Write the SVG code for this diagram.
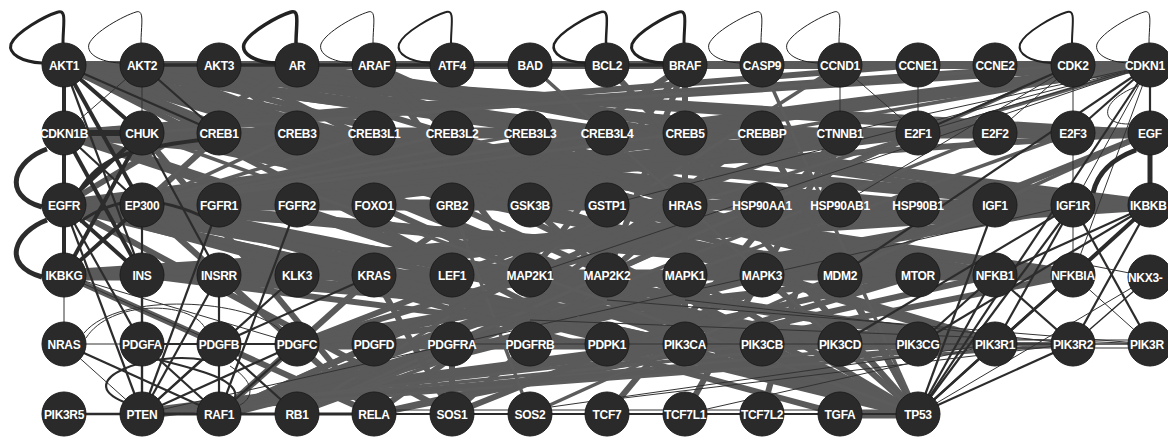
<svg xmlns="http://www.w3.org/2000/svg" xmlns:xlink="http://www.w3.org/1999/xlink" width="1168" height="440" viewBox="0 0 1168 440">
<style>
.a{stroke:#5a5a5a;stroke-width:11;fill:none}
.b{stroke:#5a5a5a;stroke-width:6;fill:none}
.c{stroke:#5c5c5c;stroke-width:3.5;fill:none}
.d{stroke:#2c2c2c;stroke-width:4;fill:none}
.e{stroke:#2c2c2c;stroke-width:2.2;fill:none}
.f{stroke:#333;stroke-width:1;fill:none}
.nd{fill:#2a2a2a;stroke:#1d1d1d;stroke-width:1}
.lb{fill:#fff;font-family:"Liberation Sans",Arial,sans-serif;font-weight:bold;font-size:12px;letter-spacing:-0.3px;text-anchor:middle}
.ls{text-anchor:start}
</style>
<defs>
<path id="lp" d="M -1,-22 C -1,-40 3,-56 -6,-53 C -19,-49 -48,-33 -53,-21 C -56,-11 -42,-3 -22,-2" fill="none" stroke="#222"/>
</defs>
<rect width="1168" height="440" fill="#fff"/>
<g id="connectors">
<line class="a" x1="64" y1="205" x2="1150" y2="205"/>
<line class="a" x1="64" y1="275" x2="1073" y2="275"/>
<line class="a" x1="64" y1="133" x2="1150" y2="133"/>
<line class="a" x1="64" y1="65" x2="1150" y2="205"/>
<line class="a" x1="64" y1="65" x2="918" y2="414"/>
<line class="a" x1="64" y1="205" x2="1150" y2="65"/>
<line class="a" x1="64" y1="205" x2="918" y2="414"/>
<line class="a" x1="142" y1="205" x2="918" y2="414"/>
<line class="a" x1="142" y1="133" x2="1073" y2="275"/>
<line class="a" x1="64" y1="65" x2="918" y2="275"/>
<line class="a" x1="219" y1="414" x2="607" y2="275"/>
<line class="a" x1="297" y1="344" x2="995" y2="344"/>
<line class="a" x1="64" y1="275" x2="1150" y2="205"/>
<line class="a" x1="64" y1="65" x2="1073" y2="133"/>
<line class="a" x1="142" y1="205" x2="1150" y2="65"/>
<line class="a" x1="64" y1="133" x2="918" y2="414"/>
<line class="a" x1="297" y1="344" x2="1073" y2="205"/>
<line class="a" x1="219" y1="414" x2="762" y2="275"/>
<line class="a" x1="142" y1="275" x2="1073" y2="205"/>
<line class="a" x1="64" y1="65" x2="995" y2="344"/>
<line class="a" x1="64" y1="205" x2="995" y2="344"/>
<line class="a" x1="142" y1="414" x2="685" y2="344"/>
<line class="a" x1="142" y1="133" x2="918" y2="205"/>
<line class="a" x1="219" y1="133" x2="995" y2="275"/>
<line class="a" x1="297" y1="133" x2="1073" y2="205"/>
<line class="a" x1="142" y1="205" x2="918" y2="275"/>
<line class="a" x1="219" y1="205" x2="840" y2="133"/>
<line class="a" x1="142" y1="275" x2="918" y2="205"/>
<line class="a" x1="219" y1="275" x2="995" y2="205"/>
<line class="a" x1="142" y1="133" x2="840" y2="275"/>
<line class="a" x1="64" y1="133" x2="840" y2="205"/>
<line class="a" x1="142" y1="205" x2="840" y2="344"/>
<line class="a" x1="219" y1="275" x2="918" y2="344"/>
<line class="a" x1="297" y1="275" x2="840" y2="205"/>
<line class="a" x1="297" y1="205" x2="918" y2="133"/>
<line class="a" x1="219" y1="65" x2="762" y2="133"/>
<line class="a" x1="374" y1="133" x2="918" y2="275"/>
<line class="b" x1="64" y1="65" x2="1150" y2="65" style="stroke-width:8"/>
<line class="b" x1="64" y1="65" x2="1073" y2="205"/>
<line class="b" x1="64" y1="65" x2="762" y2="275"/>
<line class="b" x1="64" y1="65" x2="685" y2="344"/>
<line class="b" x1="64" y1="65" x2="840" y2="275"/>
<line class="b" x1="64" y1="65" x2="762" y2="205"/>
<line class="b" x1="64" y1="65" x2="1150" y2="133"/>
<line class="b" x1="64" y1="65" x2="607" y2="344"/>
<line class="b" x1="64" y1="65" x2="530" y2="205"/>
<line class="b" x1="64" y1="65" x2="374" y2="205"/>
<line class="b" x1="64" y1="65" x2="840" y2="133"/>
<line class="b" x1="142" y1="65" x2="918" y2="275"/>
<line class="b" x1="142" y1="65" x2="1150" y2="205"/>
<line class="b" x1="142" y1="65" x2="918" y2="414"/>
<line class="b" x1="142" y1="65" x2="530" y2="205"/>
<line class="b" x1="219" y1="65" x2="918" y2="414"/>
<line class="b" x1="219" y1="65" x2="918" y2="275"/>
<line class="b" x1="219" y1="65" x2="374" y2="205"/>
<line class="b" x1="297" y1="65" x2="1073" y2="205"/>
<line class="b" x1="297" y1="65" x2="762" y2="133"/>
<line class="b" x1="297" y1="65" x2="142" y2="205"/>
<line class="b" x1="297" y1="65" x2="762" y2="205"/>
<line class="b" x1="297" y1="65" x2="64" y2="205"/>
<line class="b" x1="64" y1="205" x2="685" y2="344"/>
<line class="b" x1="64" y1="205" x2="452" y2="414"/>
<line class="b" x1="64" y1="205" x2="374" y2="275"/>
<line class="b" x1="64" y1="205" x2="1150" y2="133"/>
<line class="b" x1="64" y1="205" x2="1073" y2="275"/>
<line class="b" x1="64" y1="205" x2="840" y2="344"/>
<line class="b" x1="64" y1="133" x2="1073" y2="65"/>
<line class="b" x1="64" y1="133" x2="918" y2="65"/>
<line class="b" x1="64" y1="133" x2="1150" y2="65"/>
<line class="b" x1="142" y1="133" x2="1150" y2="205"/>
<line class="b" x1="142" y1="133" x2="995" y2="275"/>
<line class="b" x1="142" y1="133" x2="374" y2="414"/>
<line class="b" x1="142" y1="205" x2="762" y2="133"/>
<line class="b" x1="142" y1="205" x2="840" y2="133"/>
<line class="b" x1="142" y1="205" x2="374" y2="414"/>
<line class="b" x1="142" y1="205" x2="995" y2="275"/>
<line class="b" x1="142" y1="275" x2="995" y2="205"/>
<line class="b" x1="142" y1="275" x2="995" y2="344"/>
<line class="b" x1="142" y1="275" x2="685" y2="344"/>
<line class="b" x1="64" y1="275" x2="374" y2="414"/>
<line class="b" x1="762" y1="133" x2="374" y2="414"/>
<line class="b" x1="840" y1="133" x2="762" y2="414"/>
<line class="b" x1="840" y1="133" x2="685" y2="414"/>
<line class="b" x1="840" y1="133" x2="607" y2="414"/>
<line class="b" x1="840" y1="133" x2="452" y2="275"/>
<line class="b" x1="840" y1="133" x2="530" y2="205"/>
<line class="b" x1="918" y1="133" x2="297" y2="414"/>
<line class="c" x1="995" y1="133" x2="297" y2="414"/>
<line class="c" x1="1073" y1="133" x2="297" y2="414"/>
<line class="c" x1="1073" y1="65" x2="297" y2="414"/>
<line class="c" x1="840" y1="65" x2="297" y2="414"/>
<line class="b" x1="685" y1="205" x2="685" y2="65"/>
<line class="b" x1="685" y1="205" x2="374" y2="65"/>
<line class="b" x1="685" y1="205" x2="452" y2="414"/>
<line class="b" x1="685" y1="205" x2="685" y2="344"/>
<line class="b" x1="374" y1="275" x2="685" y2="344"/>
<line class="b" x1="374" y1="275" x2="685" y2="65"/>
<line class="b" x1="374" y1="275" x2="452" y2="414"/>
<line class="b" x1="530" y1="275" x2="685" y2="65"/>
<line class="b" x1="530" y1="275" x2="374" y2="65"/>
<line class="b" x1="607" y1="275" x2="685" y2="65"/>
<line class="b" x1="607" y1="275" x2="374" y2="65"/>
<line class="b" x1="918" y1="275" x2="685" y2="344"/>
<line class="b" x1="918" y1="275" x2="607" y2="344"/>
<line class="b" x1="995" y1="275" x2="374" y2="414"/>
<line class="b" x1="1073" y1="275" x2="374" y2="414"/>
<line class="b" x1="452" y1="344" x2="685" y2="344"/>
<line class="c" x1="452" y1="344" x2="1073" y2="344"/>
<line class="c" x1="530" y1="344" x2="1073" y2="344"/>
<line class="b" x1="297" y1="344" x2="918" y2="275"/>
<line class="b" x1="297" y1="344" x2="762" y2="205"/>
<line class="b" x1="297" y1="344" x2="840" y2="133"/>
<line class="c" x1="762" y1="344" x2="142" y2="414"/>
<line class="c" x1="840" y1="344" x2="142" y2="414"/>
<line class="c" x1="918" y1="344" x2="142" y2="414"/>
<line class="b" x1="995" y1="344" x2="142" y2="414"/>
<line class="c" x1="1073" y1="344" x2="142" y2="414"/>
<line class="b" x1="452" y1="414" x2="1150" y2="133"/>
<line class="b" x1="452" y1="414" x2="452" y2="205"/>
<line class="c" x1="530" y1="414" x2="452" y2="205"/>
<line class="c" x1="530" y1="414" x2="1150" y2="133"/>
<line class="b" x1="840" y1="414" x2="64" y2="205"/>
<line class="b" x1="219" y1="414" x2="685" y2="205"/>
<line class="b" x1="219" y1="414" x2="530" y2="275"/>
<line class="b" x1="219" y1="414" x2="685" y2="275"/>
<line class="b" x1="219" y1="414" x2="374" y2="275"/>
<line class="b" x1="918" y1="414" x2="840" y2="275"/>
<line class="b" x1="918" y1="414" x2="762" y2="133"/>
<line class="b" x1="918" y1="414" x2="685" y2="275"/>
<line class="b" x1="918" y1="414" x2="762" y2="275"/>
<line class="b" x1="918" y1="414" x2="607" y2="65"/>
<line class="c" x1="918" y1="414" x2="530" y2="65"/>
<line class="c" x1="918" y1="414" x2="762" y2="65"/>
<line class="c" x1="918" y1="414" x2="142" y2="133"/>
<line class="b" x1="918" y1="414" x2="840" y2="414" style="stroke-width:9"/>
<line class="c" x1="297" y1="133" x2="142" y2="205"/>
<line class="c" x1="374" y1="133" x2="142" y2="205"/>
<line class="c" x1="452" y1="133" x2="142" y2="205"/>
<line class="c" x1="530" y1="133" x2="142" y2="205"/>
<line class="c" x1="607" y1="133" x2="142" y2="205"/>
<line class="c" x1="685" y1="133" x2="142" y2="205"/>
<line class="c" x1="219" y1="133" x2="142" y2="205"/>
<line class="c" x1="1150" y1="65" x2="762" y2="133"/>
<line class="c" x1="1150" y1="65" x2="685" y2="205"/>
<line class="c" x1="1073" y1="65" x2="142" y2="133"/>
<line class="d" x1="64" y1="65" x2="64" y2="133"/>
<line class="d" x1="64" y1="133" x2="64" y2="205"/>
<line class="d" x1="64" y1="205" x2="64" y2="275"/>
<line class="d" x1="64" y1="133" x2="142" y2="133" style="stroke-width:6"/>
<line class="d" x1="64" y1="65" x2="142" y2="133"/>
<line class="d" x1="64" y1="65" x2="142" y2="205"/>
<line class="e" x1="142" y1="65" x2="685" y2="65" style="stroke-width:3.5"/>
<line class="e" x1="64" y1="65" x2="219" y2="133"/>
<line class="e" x1="64" y1="65" x2="142" y2="275"/>
<line class="f" x1="142" y1="65" x2="64" y2="133"/>
<line class="e" x1="142" y1="65" x2="219" y2="133"/>
<line class="f" x1="142" y1="65" x2="142" y2="133"/>
<line class="e" x1="64" y1="133" x2="142" y2="205"/>
<line class="d" x1="64" y1="133" x2="142" y2="275"/>
<line class="d" x1="64" y1="205" x2="142" y2="133"/>
<line class="d" x1="64" y1="205" x2="142" y2="275"/>
<line class="e" x1="64" y1="205" x2="142" y2="344"/>
<line class="e" x1="64" y1="205" x2="142" y2="414"/>
<line class="d" x1="64" y1="275" x2="142" y2="133"/>
<line class="d" x1="142" y1="205" x2="64" y2="275"/>
<line class="f" x1="64" y1="275" x2="219" y2="344"/>
<line class="e" x1="142" y1="133" x2="219" y2="275"/>
<line class="e" x1="142" y1="275" x2="142" y2="414"/>
<line class="e" x1="142" y1="205" x2="142" y2="414"/>
<line class="f" x1="64" y1="275" x2="64" y2="344"/>
<line class="e" x1="142" y1="344" x2="219" y2="414"/>
<line class="e" x1="64" y1="344" x2="219" y2="414"/>
<line class="f" x1="64" y1="344" x2="142" y2="414"/>
<line class="e" x1="219" y1="344" x2="142" y2="414"/>
<line class="e" x1="219" y1="344" x2="297" y2="414"/>
<line class="e" x1="297" y1="344" x2="142" y2="414"/>
<line class="e" x1="297" y1="344" x2="219" y2="414"/>
<line class="f" x1="64" y1="344" x2="297" y2="344"/>
<line class="e" x1="142" y1="344" x2="297" y2="344"/>
<line class="e" x1="219" y1="275" x2="142" y2="414"/>
<line class="e" x1="297" y1="275" x2="142" y2="414"/>
<line class="e" x1="219" y1="205" x2="142" y2="414"/>
<line class="e" x1="297" y1="205" x2="219" y2="414"/>
<line class="e" x1="219" y1="275" x2="219" y2="414"/>
<line class="e" x1="374" y1="275" x2="219" y2="344"/>
<line class="f" x1="64" y1="275" x2="297" y2="344"/>
<line class="e" x1="64" y1="414" x2="142" y2="414" style="stroke-width:2.5"/>
<line class="d" x1="142" y1="414" x2="374" y2="414" style="stroke-width:3"/>
<line class="e" x1="374" y1="414" x2="918" y2="414"/>
<line class="f" x1="374" y1="410" x2="840" y2="410"/>
<path class="e" d="M 47,149 C 15,160 0,195 42,207" style="stroke-width:5"/>
<path class="e" d="M 47,220 C 15,232 0,265 42,277" style="stroke-width:5"/>
<path class="e" d="M 80,190 C 100,160 120,150 200,140" style="stroke-width:4"/>
<path class="e" d="M 80,222 C 110,200 150,190 210,220" style="stroke-width:3"/>
<path class="f" d="M 86,338 C 110,300 190,300 205,328"/>
<path class="f" d="M 84,333 C 120,290 250,300 280,330"/>
<path class="e" d="M 124,402 C 70,380 150,350 205,360"/>
<path class="e" d="M 160,360 C 200,370 240,380 235,398"/>
<path class="f" d="M 230,366 C 260,385 250,400 240,405"/>
<line class="e" x1="1150" y1="65" x2="1073" y2="133"/>
<line class="f" x1="1150" y1="65" x2="1150" y2="133"/>
<line class="e" x1="1150" y1="65" x2="1150" y2="205"/>
<line class="f" x1="1150" y1="65" x2="1073" y2="205"/>
<line class="e" x1="1150" y1="65" x2="918" y2="414"/>
<line class="e" x1="1150" y1="65" x2="840" y2="275"/>
<line class="f" x1="1150" y1="65" x2="840" y2="133"/>
<line class="f" x1="1150" y1="65" x2="918" y2="133"/>
<line class="f" x1="1150" y1="65" x2="607" y2="205"/>
<line class="f" x1="1150" y1="65" x2="530" y2="275"/>
<line class="f" x1="1150" y1="65" x2="1073" y2="275"/>
<line class="f" x1="1073" y1="65" x2="1073" y2="133"/>
<line class="f" x1="1073" y1="65" x2="995" y2="133"/>
<line class="e" x1="1073" y1="65" x2="918" y2="133"/>
<line class="f" x1="1073" y1="65" x2="840" y2="205"/>
<line class="f" x1="840" y1="65" x2="840" y2="133"/>
<line class="f" x1="918" y1="65" x2="918" y2="133"/>
<line class="f" x1="840" y1="65" x2="918" y2="133"/>
<line class="f" x1="1073" y1="133" x2="1073" y2="205"/>
<line class="d" x1="1150" y1="133" x2="1150" y2="205" style="stroke-width:5"/>
<path class="d" d="M 1093,193 C 1098,170 1115,158 1136,150" style="stroke-width:5"/>
<path class="f" d="M 1138,86 C 1100,100 1098,125 1130,124"/>
<line class="d" x1="1150" y1="205" x2="1073" y2="275"/>
<line class="f" x1="1073" y1="205" x2="1073" y2="275"/>
<line class="e" x1="1073" y1="205" x2="995" y2="344"/>
<line class="f" x1="1073" y1="205" x2="142" y2="414"/>
<line class="e" x1="1073" y1="205" x2="918" y2="414"/>
<line class="e" x1="1073" y1="205" x2="1150" y2="344"/>
<line class="e" x1="1150" y1="205" x2="995" y2="275"/>
<line class="e" x1="1150" y1="205" x2="995" y2="344"/>
<line class="e" x1="1150" y1="205" x2="918" y2="414"/>
<line class="e" x1="1150" y1="205" x2="1073" y2="344"/>
<line class="e" x1="1073" y1="275" x2="995" y2="344"/>
<line class="e" x1="1073" y1="275" x2="918" y2="414"/>
<line class="f" x1="1073" y1="275" x2="1150" y2="344"/>
<line class="f" x1="1073" y1="262" x2="1150" y2="277"/>
<line class="f" x1="1150" y1="277" x2="918" y2="414"/>
<line class="e" x1="1150" y1="277" x2="1073" y2="344" style="stroke-width:1.5"/>
<line class="e" x1="995" y1="275" x2="1073" y2="344"/>
<line class="e" x1="995" y1="275" x2="918" y2="414"/>
<line class="e" x1="995" y1="205" x2="918" y2="414"/>
<line class="f" x1="995" y1="344" x2="1150" y2="344"/>
<line class="f" x1="995" y1="340" x2="1150" y2="340"/>
<line class="f" x1="995" y1="348" x2="1150" y2="348"/>
<line class="f" x1="1150" y1="344" x2="452" y2="344"/>
<line class="f" x1="1150" y1="344" x2="530" y2="320"/>
<line class="f" x1="1150" y1="344" x2="607" y2="300"/>
<line class="f" x1="1073" y1="344" x2="685" y2="300"/>
<line class="f" x1="1073" y1="344" x2="607" y2="400"/>
<line class="f" x1="995" y1="344" x2="530" y2="410"/>
<line class="f" x1="995" y1="344" x2="685" y2="414"/>
<line class="e" x1="995" y1="344" x2="918" y2="414"/>
<line class="e" x1="1073" y1="344" x2="918" y2="414"/>
<line class="e" x1="995" y1="275" x2="918" y2="344"/>
<line class="e" x1="1073" y1="205" x2="840" y2="344"/>
<line class="e" x1="1150" y1="205" x2="918" y2="344"/>
<use href="#lp" x="64" y="65" stroke-width="3"/>
<use href="#lp" x="142" y="65" stroke-width="1"/>
<use href="#lp" x="297" y="65" stroke-width="3.5"/>
<use href="#lp" x="374" y="65" stroke-width="1"/>
<use href="#lp" x="452" y="65" stroke-width="2"/>
<use href="#lp" x="607" y="65" stroke-width="2.5"/>
<use href="#lp" x="685" y="65" stroke-width="3"/>
<use href="#lp" x="762" y="65" stroke-width="1"/>
<use href="#lp" x="840" y="65" stroke-width="1"/>
<use href="#lp" x="1073" y="65" stroke-width="2"/>
<use href="#lp" x="1150" y="65" stroke-width="1"/>
</g>
<g id="nodes">
<g id="n-AKT1"><circle class="nd" cx="64" cy="65" r="22"/><text class="lb" x="64" y="69.5">AKT1</text></g>
<g id="n-AKT2"><circle class="nd" cx="142" cy="65" r="22"/><text class="lb" x="142" y="69.5">AKT2</text></g>
<g id="n-AKT3"><circle class="nd" cx="219" cy="65" r="22"/><text class="lb" x="219" y="69.5">AKT3</text></g>
<g id="n-AR"><circle class="nd" cx="297" cy="65" r="22"/><text class="lb" x="297" y="69.5">AR</text></g>
<g id="n-ARAF"><circle class="nd" cx="374" cy="65" r="22"/><text class="lb" x="374" y="69.5">ARAF</text></g>
<g id="n-ATF4"><circle class="nd" cx="452" cy="65" r="22"/><text class="lb" x="452" y="69.5">ATF4</text></g>
<g id="n-BAD"><circle class="nd" cx="530" cy="65" r="22"/><text class="lb" x="530" y="69.5">BAD</text></g>
<g id="n-BCL2"><circle class="nd" cx="607" cy="65" r="22"/><text class="lb" x="607" y="69.5">BCL2</text></g>
<g id="n-BRAF"><circle class="nd" cx="685" cy="65" r="22"/><text class="lb" x="685" y="69.5">BRAF</text></g>
<g id="n-CASP9"><circle class="nd" cx="762" cy="65" r="22"/><text class="lb" x="762" y="69.5">CASP9</text></g>
<g id="n-CCND1"><circle class="nd" cx="840" cy="65" r="22"/><text class="lb" x="840" y="69.5">CCND1</text></g>
<g id="n-CCNE1"><circle class="nd" cx="918" cy="65" r="22"/><text class="lb" x="918" y="69.5">CCNE1</text></g>
<g id="n-CCNE2"><circle class="nd" cx="995" cy="65" r="22"/><text class="lb" x="995" y="69.5">CCNE2</text></g>
<g id="n-CDK2"><circle class="nd" cx="1073" cy="65" r="22"/><text class="lb" x="1073" y="69.5">CDK2</text></g>
<g id="n-CDKN1"><circle class="nd" cx="1150" cy="65" r="22"/><text class="lb ls" x="1125" y="69.5">CDKN1</text></g>
<g id="n-CDKN1B"><circle class="nd" cx="64" cy="133" r="22"/><text class="lb" x="64" y="137.5">CDKN1B</text></g>
<g id="n-CHUK"><circle class="nd" cx="142" cy="133" r="22"/><text class="lb" x="142" y="137.5">CHUK</text></g>
<g id="n-CREB1"><circle class="nd" cx="219" cy="133" r="22"/><text class="lb" x="219" y="137.5">CREB1</text></g>
<g id="n-CREB3"><circle class="nd" cx="297" cy="133" r="22"/><text class="lb" x="297" y="137.5">CREB3</text></g>
<g id="n-CREB3L1"><circle class="nd" cx="374" cy="133" r="22"/><text class="lb" x="374" y="137.5">CREB3L1</text></g>
<g id="n-CREB3L2"><circle class="nd" cx="452" cy="133" r="22"/><text class="lb" x="452" y="137.5">CREB3L2</text></g>
<g id="n-CREB3L3"><circle class="nd" cx="530" cy="133" r="22"/><text class="lb" x="530" y="137.5">CREB3L3</text></g>
<g id="n-CREB3L4"><circle class="nd" cx="607" cy="133" r="22"/><text class="lb" x="607" y="137.5">CREB3L4</text></g>
<g id="n-CREB5"><circle class="nd" cx="685" cy="133" r="22"/><text class="lb" x="685" y="137.5">CREB5</text></g>
<g id="n-CREBBP"><circle class="nd" cx="762" cy="133" r="22"/><text class="lb" x="762" y="137.5">CREBBP</text></g>
<g id="n-CTNNB1"><circle class="nd" cx="840" cy="133" r="22"/><text class="lb" x="840" y="137.5">CTNNB1</text></g>
<g id="n-E2F1"><circle class="nd" cx="918" cy="133" r="22"/><text class="lb" x="918" y="137.5">E2F1</text></g>
<g id="n-E2F2"><circle class="nd" cx="995" cy="133" r="22"/><text class="lb" x="995" y="137.5">E2F2</text></g>
<g id="n-E2F3"><circle class="nd" cx="1073" cy="133" r="22"/><text class="lb" x="1073" y="137.5">E2F3</text></g>
<g id="n-EGF"><circle class="nd" cx="1150" cy="133" r="22"/><text class="lb" x="1150" y="137.5">EGF</text></g>
<g id="n-EGFR"><circle class="nd" cx="64" cy="205" r="22"/><text class="lb" x="64" y="209.5">EGFR</text></g>
<g id="n-EP300"><circle class="nd" cx="142" cy="205" r="22"/><text class="lb" x="142" y="209.5">EP300</text></g>
<g id="n-FGFR1"><circle class="nd" cx="219" cy="205" r="22"/><text class="lb" x="219" y="209.5">FGFR1</text></g>
<g id="n-FGFR2"><circle class="nd" cx="297" cy="205" r="22"/><text class="lb" x="297" y="209.5">FGFR2</text></g>
<g id="n-FOXO1"><circle class="nd" cx="374" cy="205" r="22"/><text class="lb" x="374" y="209.5">FOXO1</text></g>
<g id="n-GRB2"><circle class="nd" cx="452" cy="205" r="22"/><text class="lb" x="452" y="209.5">GRB2</text></g>
<g id="n-GSK3B"><circle class="nd" cx="530" cy="205" r="22"/><text class="lb" x="530" y="209.5">GSK3B</text></g>
<g id="n-GSTP1"><circle class="nd" cx="607" cy="205" r="22"/><text class="lb" x="607" y="209.5">GSTP1</text></g>
<g id="n-HRAS"><circle class="nd" cx="685" cy="205" r="22"/><text class="lb" x="685" y="209.5">HRAS</text></g>
<g id="n-HSP90AA1"><circle class="nd" cx="762" cy="205" r="22"/><text class="lb" x="762" y="209.5">HSP90AA1</text></g>
<g id="n-HSP90AB1"><circle class="nd" cx="840" cy="205" r="22"/><text class="lb" x="840" y="209.5">HSP90AB1</text></g>
<g id="n-HSP90B1"><circle class="nd" cx="918" cy="205" r="22"/><text class="lb" x="918" y="209.5">HSP90B1</text></g>
<g id="n-IGF1"><circle class="nd" cx="995" cy="205" r="22"/><text class="lb" x="995" y="209.5">IGF1</text></g>
<g id="n-IGF1R"><circle class="nd" cx="1073" cy="205" r="22"/><text class="lb" x="1073" y="209.5">IGF1R</text></g>
<g id="n-IKBKB"><circle class="nd" cx="1150" cy="205" r="22"/><text class="lb ls" x="1130" y="209.5">IKBKB</text></g>
<g id="n-IKBKG"><circle class="nd" cx="64" cy="275" r="22"/><text class="lb" x="64" y="279.5">IKBKG</text></g>
<g id="n-INS"><circle class="nd" cx="142" cy="275" r="22"/><text class="lb" x="142" y="279.5">INS</text></g>
<g id="n-INSRR"><circle class="nd" cx="219" cy="275" r="22"/><text class="lb" x="219" y="279.5">INSRR</text></g>
<g id="n-KLK3"><circle class="nd" cx="297" cy="275" r="22"/><text class="lb" x="297" y="279.5">KLK3</text></g>
<g id="n-KRAS"><circle class="nd" cx="374" cy="275" r="22"/><text class="lb" x="374" y="279.5">KRAS</text></g>
<g id="n-LEF1"><circle class="nd" cx="452" cy="275" r="22"/><text class="lb" x="452" y="279.5">LEF1</text></g>
<g id="n-MAP2K1"><circle class="nd" cx="530" cy="275" r="22"/><text class="lb" x="530" y="279.5">MAP2K1</text></g>
<g id="n-MAP2K2"><circle class="nd" cx="607" cy="275" r="22"/><text class="lb" x="607" y="279.5">MAP2K2</text></g>
<g id="n-MAPK1"><circle class="nd" cx="685" cy="275" r="22"/><text class="lb" x="685" y="279.5">MAPK1</text></g>
<g id="n-MAPK3"><circle class="nd" cx="762" cy="275" r="22"/><text class="lb" x="762" y="279.5">MAPK3</text></g>
<g id="n-MDM2"><circle class="nd" cx="840" cy="275" r="22"/><text class="lb" x="840" y="279.5">MDM2</text></g>
<g id="n-MTOR"><circle class="nd" cx="918" cy="275" r="22"/><text class="lb" x="918" y="279.5">MTOR</text></g>
<g id="n-NFKB1"><circle class="nd" cx="995" cy="275" r="22"/><text class="lb" x="995" y="279.5">NFKB1</text></g>
<g id="n-NFKBIA"><circle class="nd" cx="1073" cy="275" r="22"/><text class="lb" x="1073" y="279.5">NFKBIA</text></g>
<g id="n-NKX3-1"><circle class="nd" cx="1150" cy="277" r="22"/><text class="lb ls" x="1128" y="281.5">NKX3-</text></g>
<g id="n-NRAS"><circle class="nd" cx="64" cy="344" r="22"/><text class="lb" x="64" y="348.5">NRAS</text></g>
<g id="n-PDGFA"><circle class="nd" cx="142" cy="344" r="22"/><text class="lb" x="142" y="348.5">PDGFA</text></g>
<g id="n-PDGFB"><circle class="nd" cx="219" cy="344" r="22"/><text class="lb" x="219" y="348.5">PDGFB</text></g>
<g id="n-PDGFC"><circle class="nd" cx="297" cy="344" r="22"/><text class="lb" x="297" y="348.5">PDGFC</text></g>
<g id="n-PDGFD"><circle class="nd" cx="374" cy="344" r="22"/><text class="lb" x="374" y="348.5">PDGFD</text></g>
<g id="n-PDGFRA"><circle class="nd" cx="452" cy="344" r="22"/><text class="lb" x="452" y="348.5">PDGFRA</text></g>
<g id="n-PDGFRB"><circle class="nd" cx="530" cy="344" r="22"/><text class="lb" x="530" y="348.5">PDGFRB</text></g>
<g id="n-PDPK1"><circle class="nd" cx="607" cy="344" r="22"/><text class="lb" x="607" y="348.5">PDPK1</text></g>
<g id="n-PIK3CA"><circle class="nd" cx="685" cy="344" r="22"/><text class="lb" x="685" y="348.5">PIK3CA</text></g>
<g id="n-PIK3CB"><circle class="nd" cx="762" cy="344" r="22"/><text class="lb" x="762" y="348.5">PIK3CB</text></g>
<g id="n-PIK3CD"><circle class="nd" cx="840" cy="344" r="22"/><text class="lb" x="840" y="348.5">PIK3CD</text></g>
<g id="n-PIK3CG"><circle class="nd" cx="918" cy="344" r="22"/><text class="lb" x="918" y="348.5">PIK3CG</text></g>
<g id="n-PIK3R1"><circle class="nd" cx="995" cy="344" r="22"/><text class="lb" x="995" y="348.5">PIK3R1</text></g>
<g id="n-PIK3R2"><circle class="nd" cx="1073" cy="344" r="22"/><text class="lb" x="1073" y="348.5">PIK3R2</text></g>
<g id="n-PIK3R3"><circle class="nd" cx="1150" cy="344" r="22"/><text class="lb ls" x="1130" y="348.5">PIK3R</text></g>
<g id="n-PIK3R5"><circle class="nd" cx="64" cy="414" r="22"/><text class="lb" x="64" y="418.5">PIK3R5</text></g>
<g id="n-PTEN"><circle class="nd" cx="142" cy="414" r="22"/><text class="lb" x="142" y="418.5">PTEN</text></g>
<g id="n-RAF1"><circle class="nd" cx="219" cy="414" r="22"/><text class="lb" x="219" y="418.5">RAF1</text></g>
<g id="n-RB1"><circle class="nd" cx="297" cy="414" r="22"/><text class="lb" x="297" y="418.5">RB1</text></g>
<g id="n-RELA"><circle class="nd" cx="374" cy="414" r="22"/><text class="lb" x="374" y="418.5">RELA</text></g>
<g id="n-SOS1"><circle class="nd" cx="452" cy="414" r="22"/><text class="lb" x="452" y="418.5">SOS1</text></g>
<g id="n-SOS2"><circle class="nd" cx="530" cy="414" r="22"/><text class="lb" x="530" y="418.5">SOS2</text></g>
<g id="n-TCF7"><circle class="nd" cx="607" cy="414" r="22"/><text class="lb" x="607" y="418.5">TCF7</text></g>
<g id="n-TCF7L1"><circle class="nd" cx="685" cy="414" r="22"/><text class="lb" x="685" y="418.5">TCF7L1</text></g>
<g id="n-TCF7L2"><circle class="nd" cx="762" cy="414" r="22"/><text class="lb" x="762" y="418.5">TCF7L2</text></g>
<g id="n-TGFA"><circle class="nd" cx="840" cy="414" r="22"/><text class="lb" x="840" y="418.5">TGFA</text></g>
<g id="n-TP53"><circle class="nd" cx="918" cy="414" r="22"/><text class="lb" x="918" y="418.5">TP53</text></g>
</g>
</svg>
